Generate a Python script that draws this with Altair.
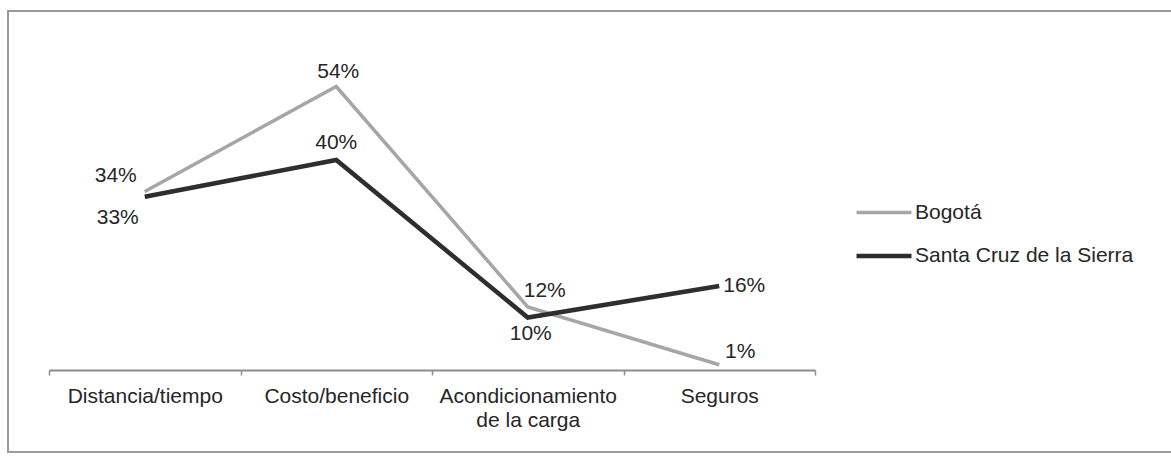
import altair as alt
import pandas as pd

# Categories along the x axis
categories = ["Distancia/tiempo", "Costo/beneficio", "Acondicionamiento\nde la carga", "Seguros"]
series_names = ["Bogotá", "Santa Cruz de la Sierra"]

# Shares (fraction) per category
bogota = [0.34, 0.54, 0.12, 0.01]
santa_cruz = [0.33, 0.40, 0.10, 0.16]

rows = []
for name, vals in zip(series_names, [bogota, santa_cruz]):
    for i, (cat, v) in enumerate(zip(categories, vals)):
        rows.append({"serie": name, "categoria": cat, "pos": i + 0.5, "valor": v,
                     "etiqueta": f"{round(v * 100)}%"})
df = pd.DataFrame(rows)

FONT = "Liberation Sans"
FS = 21
TEXT = "#262626"
W, H = 766, 315

x_scale = alt.Scale(domain=[0, 4], nice=False, zero=False)
x_plain = alt.X("pos:Q", scale=x_scale, axis=None)
y_enc = alt.Y("valor:Q", scale=alt.Scale(domain=[0, 0.6], nice=False), axis=None)

colors = alt.Scale(domain=series_names, range=["#a6a6a6", "#2e2e2e"])
widths = alt.Scale(domain=series_names, range=[3.5, 4.5])

lines = alt.Chart(df).mark_line().encode(
    x=alt.X("pos:Q", scale=x_scale,
            axis=alt.Axis(orient="bottom", values=[0, 1, 2, 3, 4], labels=False, ticks=True,
                          tickSize=5, tickColor="#8c8c8c", tickWidth=1.5,
                          domainColor="#8c8c8c", domainWidth=2, grid=False, title=None)),
    y=y_enc,
    color=alt.Color("serie:N", scale=colors, sort=series_names,
                    legend=alt.Legend(title=None, orient="none", legendX=805, legendY=128,
                                      symbolType="stroke", symbolSize=3025,
                                      symbolStrokeWidth=4.5, labelFont=FONT,
                                      labelFontSize=FS, labelColor=TEXT, labelLimit=0,
                                      labelOffset=1, rowPadding=3)),
    strokeWidth=alt.StrokeWidth("serie:N", scale=widths, legend=None),
    order=alt.Order("pos:Q"),
)

# Category labels under the axis, centred on each band
cat_axis = alt.Chart(df).mark_point(opacity=0).encode(
    x=alt.X("pos:Q", scale=x_scale,
            axis=alt.Axis(orient="bottom", values=[0.5, 1.5, 2.5, 3.5], ticks=False,
                          domain=False, grid=False, title=None, labelFont=FONT,
                          labelFontSize=FS, labelColor=TEXT, labelPadding=15,
                          labelLineHeight=24,
                          labelExpr=("datum.value == 0.5 ? 'Distancia/tiempo' : "
                                     "datum.value == 1.5 ? 'Costo/beneficio' : "
                                     "datum.value == 2.5 ? ['Acondicionamiento', 'de la carga'] : "
                                     "'Seguros'"))),
    y=y_enc,
)

# Data label offsets (dx, dy) for each point
placement = {
    ("Bogotá", 0): (-29, -16), ("Bogotá", 1): (2, -15), ("Bogotá", 2): (17, -16),
    ("Bogotá", 3): (21, -13),
    ("Santa Cruz de la Sierra", 0): (-27, 21), ("Santa Cruz de la Sierra", 1): (0, -17),
    ("Santa Cruz de la Sierra", 2): (3, 16), ("Santa Cruz de la Sierra", 3): (25, 0),
}

labels = []
for (serie, idx), (dx, dy) in placement.items():
    labels.append(
        alt.Chart(df).transform_filter(
            (alt.datum.serie == serie) & (alt.datum.pos == idx + 0.5)
        ).mark_text(font=FONT, fontSize=FS, color=TEXT, dx=dx, dy=dy,
                    align="center", baseline="middle").encode(
            x=x_plain, y=y_enc, text="etiqueta:N"
        )
    )

# Outer frame
frame = alt.Chart(df).mark_rect(fill=None, stroke="#9a9a9a", strokeWidth=1.5).encode(
    x=alt.value(-41), x2=alt.value(1140), y=alt.value(-44), y2=alt.value(397)
)

chart = alt.layer(frame, lines, cat_axis, *labels).resolve_axis(x="independent").properties(
    width=W, height=H,
    padding={"left": 49, "top": 55, "right": 1171 - 49 - W, "bottom": 461 - 55 - H},
    autosize=alt.AutoSizeParams(type="none"),
    background="white",
).configure_view(stroke=None)

chart.save("out.html", embed_options={"renderer": "svg", "actions": False})
